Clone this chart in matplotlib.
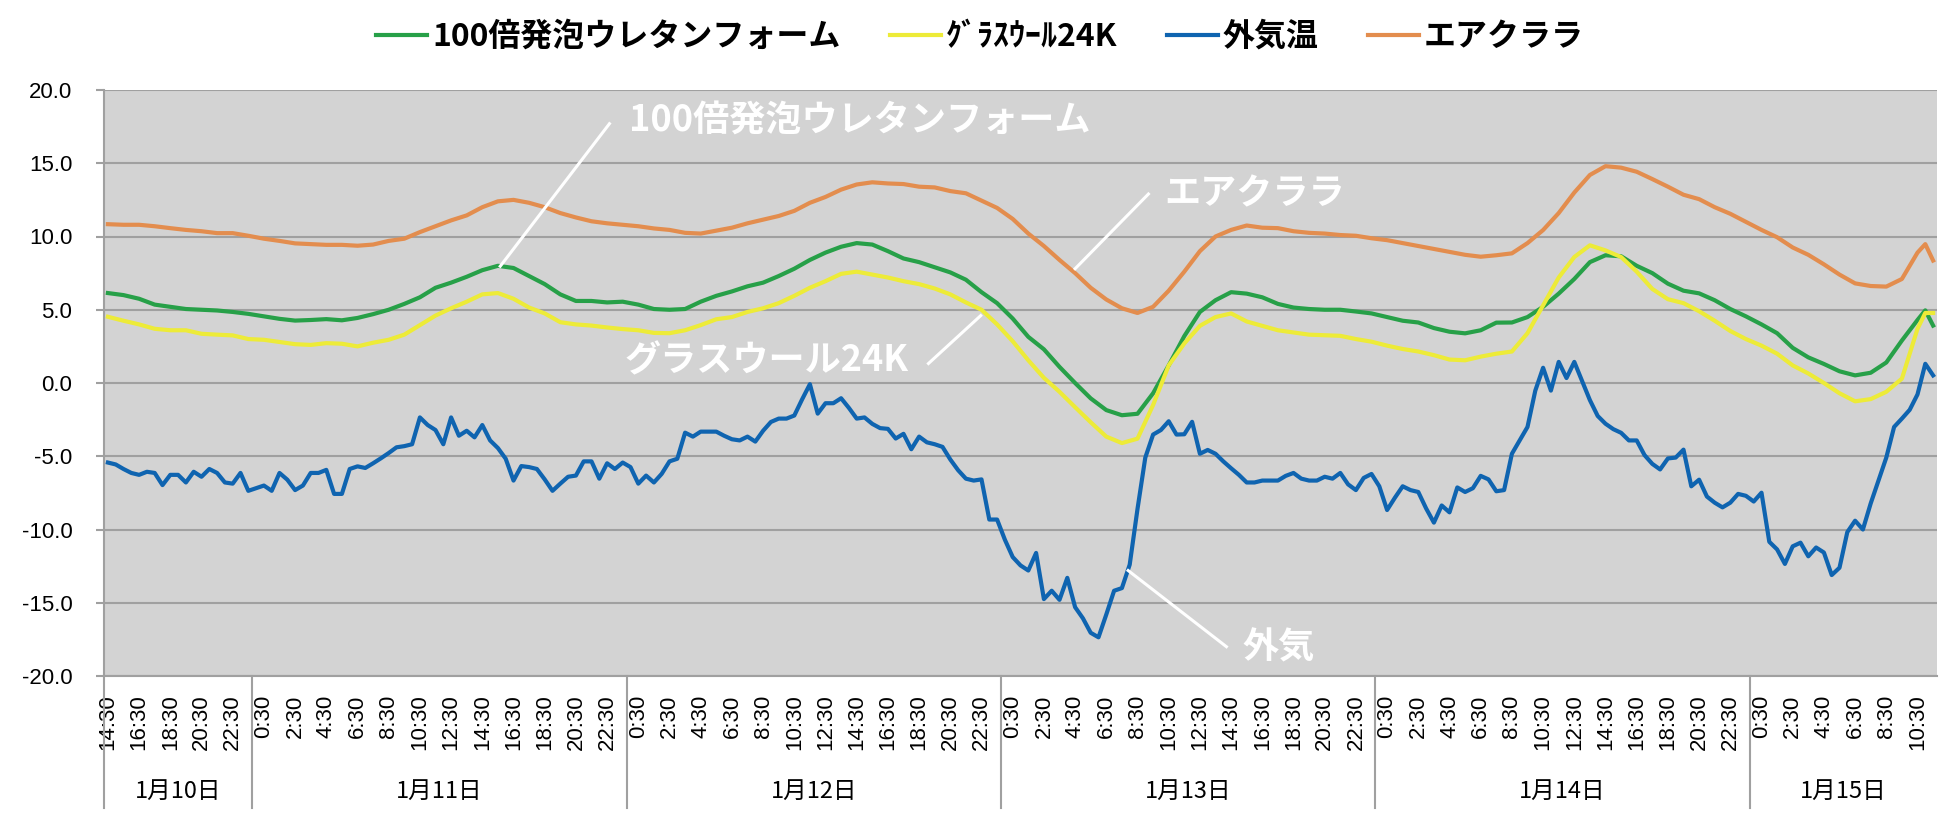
import numpy as np
import pandas as pd
import matplotlib
matplotlib.use("Agg")
import matplotlib.pyplot as plt
import matplotlib.transforms as mtransforms
from matplotlib.ticker import FormatStrFormatter
from matplotlib.font_manager import FontProperties

plt.rcParams['font.family'] = ['Liberation Sans', 'Noto Sans CJK JP', 'DejaVu Sans']
plt.rcParams['axes.unicode_minus'] = False

# 30分ごとの測定 (1/10 14:30 ～ 1/15 11:30)
start_time = '2000-01-10 14:30'

# 外気温 (30分ごと)
outside = [
    -5.43, -5.56, -5.87, -6.14, -6.27, -6.06, -6.14, -6.97, -6.27, -6.27,
    -6.79, -6.06, -6.4, -5.87, -6.14, -6.79, -6.87, -6.14, -7.36, -7.18,
    -7.0, -7.36, -6.14, -6.6, -7.31, -7.0, -6.14, -6.14, -5.93, -7.57,
    -7.57, -5.87, -5.69, -5.8, -5.48, -5.14, -4.78, -4.39, -4.31, -4.18,
    -2.35, -2.87, -3.21, -4.18, -2.35, -3.6, -3.26, -3.71, -2.87, -3.92,
    -4.44, -5.17, -6.66, -5.67, -5.74, -5.87, -6.58, -7.36, -6.87, -6.4,
    -6.32, -5.35, -5.35, -6.53, -5.48, -5.87, -5.43, -5.74, -6.87, -6.32,
    -6.79, -6.2, -5.35, -5.17, -3.39, -3.66, -3.32, -3.32, -3.32, -3.6,
    -3.84, -3.92, -3.66, -4.0, -3.26, -2.66, -2.43, -2.43, -2.22, -1.12,
    -0.08, -2.09, -1.38, -1.38, -1.04, -1.7, -2.43, -2.35, -2.79, -3.08,
    -3.13, -3.79, -3.47, -4.52, -3.66, -4.05, -4.18, -4.36, -5.22, -5.95,
    -6.53, -6.66, -6.58, -9.32, -9.32, -10.7, -11.88, -12.45, -12.8, -11.6,
    -14.75, -14.18, -14.8, -13.3, -15.3, -16.06, -17.05, -17.36, -15.8, -14.18,
    -14.0, -12.4, -8.6, -5.09, -3.52, -3.21, -2.61, -3.52, -3.5, -2.65,
    -4.83, -4.57, -4.83, -5.35, -5.82, -6.27, -6.79, -6.79, -6.66, -6.66,
    -6.66, -6.34, -6.14, -6.53, -6.66, -6.66, -6.4, -6.53, -6.14, -6.92,
    -7.31, -6.48, -6.21, -7.05, -8.67, -7.83, -7.05, -7.31, -7.44, -8.56,
    -9.53, -8.36, -8.83, -7.13, -7.44, -7.18, -6.34, -6.58, -7.39, -7.31,
    -4.83, -3.92, -3.0, -0.52, 1.04, -0.52, 1.44, 0.34, 1.44, 0.13,
    -1.17, -2.25, -2.78, -3.15, -3.4, -3.92, -3.92, -4.92, -5.52, -5.9,
    -5.15, -5.09, -4.55, -7.05, -6.6, -7.75, -8.17, -8.49, -8.17, -7.57,
    -7.7, -8.09, -7.49, -10.84, -11.36, -12.35, -11.15, -10.9, -11.83, -11.23,
    -11.57, -13.11, -12.61, -10.18, -9.4, -10.0, -8.22, -6.66, -5.09, -3.0,
    -2.43, -1.83, -0.78, 1.31, 0.52,
]

# 室内側 (1時間ごと 14:30 ～ 10:30、最後の2点は 11:00, 11:30)
urethane = [
    6.14, 6.0, 5.75, 5.35, 5.2, 5.05, 5.0, 4.95, 4.85, 4.72,
    4.55, 4.38, 4.26, 4.3, 4.36, 4.28, 4.44, 4.7, 5.0, 5.4,
    5.85, 6.5, 6.85, 7.25, 7.7, 8.0, 7.85, 7.3, 6.75, 6.05,
    5.6, 5.6, 5.5, 5.55, 5.35, 5.05, 5.0, 5.05, 5.55, 5.95,
    6.25, 6.6, 6.85, 7.3, 7.8, 8.4, 8.9, 9.3, 9.55, 9.45,
    9.0, 8.5, 8.25, 7.9, 7.55, 7.05, 6.2, 5.45, 4.4, 3.15,
    2.3, 1.1, 0.0, -1.05, -1.85, -2.2, -2.1, -0.7, 1.2, 3.2,
    4.85, 5.65, 6.2, 6.1, 5.85, 5.4, 5.15, 5.05, 5.0, 5.0,
    4.88, 4.75, 4.5, 4.25, 4.13, 3.75, 3.5, 3.39, 3.6, 4.12,
    4.13, 4.5, 5.2, 6.1, 7.1, 8.25, 8.72, 8.65, 8.0, 7.5,
    6.78, 6.3, 6.12, 5.65, 5.05, 4.55, 4.0, 3.4, 2.4, 1.75,
    1.3, 0.8, 0.52, 0.7, 1.4, 2.9, 4.3,
    4.96, 3.92,
]
glasswool = [
    4.52, 4.25, 4.0, 3.7, 3.6, 3.6, 3.36, 3.3, 3.25, 3.0,
    2.95, 2.8, 2.65, 2.6, 2.72, 2.68, 2.5, 2.75, 2.95, 3.3,
    3.95, 4.6, 5.1, 5.55, 6.05, 6.14, 5.75, 5.15, 4.75, 4.15,
    4.0, 3.92, 3.79, 3.68, 3.6, 3.42, 3.4, 3.6, 3.95, 4.35,
    4.5, 4.85, 5.1, 5.45, 5.95, 6.5, 6.95, 7.45, 7.6, 7.4,
    7.2, 6.95, 6.75, 6.45, 6.05, 5.5, 5.0, 4.0, 2.85, 1.55,
    0.35, -0.6, -1.65, -2.68, -3.66, -4.1, -3.8, -1.5, 1.2, 2.7,
    3.9, 4.5, 4.75, 4.2, 3.9, 3.6, 3.45, 3.3, 3.26, 3.22,
    3.0, 2.82, 2.55, 2.32, 2.15, 1.9, 1.6, 1.55, 1.8, 2.0,
    2.15, 3.4, 5.3, 7.2, 8.6, 9.4, 9.05, 8.6, 7.6, 6.42,
    5.72, 5.45, 4.9, 4.25, 3.55, 3.0, 2.55, 2.0, 1.2, 0.65,
    0.0, -0.7, -1.25, -1.1, -0.6, 0.3, 3.7,
    4.78, 4.78,
]
aircrara = [
    10.84, 10.8, 10.8, 10.7, 10.57, 10.45, 10.36, 10.23, 10.23, 10.05,
    9.85, 9.7, 9.53, 9.48, 9.43, 9.43, 9.37, 9.45, 9.7, 9.85,
    10.3, 10.7, 11.1, 11.44, 12.0, 12.4, 12.5, 12.3, 12.0, 11.6,
    11.3, 11.04, 10.9, 10.8, 10.7, 10.55, 10.45, 10.25, 10.2, 10.4,
    10.6, 10.9, 11.15, 11.4, 11.75, 12.3, 12.7, 13.2, 13.55, 13.7,
    13.62, 13.58, 13.4, 13.35, 13.1, 12.95, 12.45, 11.95, 11.2, 10.2,
    9.35, 8.4, 7.5, 6.5, 5.7, 5.1, 4.78, 5.2, 6.3, 7.6,
    9.0, 10.0, 10.45, 10.75, 10.6, 10.57, 10.36, 10.25, 10.2, 10.1,
    10.05, 9.88, 9.75, 9.55, 9.35, 9.15, 8.95, 8.75, 8.62, 8.72,
    8.85, 9.55, 10.44, 11.6, 13.0, 14.2, 14.8, 14.7, 14.42, 13.92,
    13.4, 12.85, 12.55, 12.0, 11.55, 11.0, 10.45, 9.95, 9.25, 8.75,
    8.1, 7.4, 6.8, 6.62, 6.58, 7.1, 8.9,
    9.48, 8.36,
]

series_names = ['100倍発泡ウレタンフォーム', 'ｸﾞﾗｽｳｰﾙ24K', '外気温', 'エアクララ']
colors = ['#27A048', '#EDEB38', '#0F64B0', '#E38D4E']
day_labels = ['1月10日', '1月11日', '1月12日', '1月13日', '1月14日', '1月15日']

n = len(outside)
times = pd.date_range(start_time, periods=n, freq='30min')
x_all = np.arange(n)
x_hour = np.r_[np.arange(0, n - 2, 2), n - 2, n - 1]

fig = plt.figure(figsize=(19.6, 8.18), dpi=100)
ax = fig.add_axes([104 / 1960, 1 - 676 / 818, 1833 / 1960, 586 / 818])
ax.set_facecolor('#D3D3D3')

lw = 3.0
ax.plot(x_hour, urethane, color=colors[0], lw=lw, label=series_names[0], zorder=3)
ax.plot(x_hour, glasswool, color=colors[1], lw=lw, label=series_names[1], zorder=3)
ax.plot(x_all, outside, color=colors[2], lw=lw, label=series_names[2], zorder=3)
ax.plot(x_hour, aircrara, color=colors[3], lw=lw, label=series_names[3], zorder=3)

ax.set_xlim(-0.5, n - 0.5)
ax.set_ylim(-20, 20)
ax.set_yticks(np.arange(-20, 21, 5))
ax.yaxis.set_major_formatter(FormatStrFormatter('%.1f'))
ax.grid(axis='y', color='#A0A0A0', lw=1.5, zorder=1)
for s in ['top', 'right']:
    ax.spines[s].set_visible(False)
for s in ['left', 'bottom']:
    ax.spines[s].set_color('#A0A0A0')
    ax.spines[s].set_linewidth(1.5)
ax.tick_params(axis='y', direction='out', length=5.8, width=1.5, color='#A0A0A0',
               pad=17, labelsize=16)

# 時刻ラベル (2時間ごと)
tick_pos = x_all[::4]
tick_lab = [f"{t.hour}:{t.minute:02d}" for t in times[::4]]
ax.set_xticks(tick_pos)
ax.set_xticklabels(tick_lab, rotation=90, fontsize=16, va='top')
ax.tick_params(axis='x', length=0, pad=13.5)

# 日付の区切り
trans = mtransforms.blended_transform_factory(ax.transData, ax.transAxes)
days = np.array([t.day for t in times])
bounds = [-0.5] + [i - 0.5 for i in range(1, n) if days[i] != days[i - 1]] + [n - 0.5]
low = -(808 - 676) / 586
for b in bounds[:-1]:
    ax.plot([b, b], [0, low], color='#A0A0A0', lw=1.5, transform=trans, clip_on=False)
for k, lab in enumerate(day_labels):
    ax.text((bounds[k] + bounds[k + 1]) / 2, -(791 - 676) / 586, lab, transform=trans,
            ha='center', va='center', fontsize=17, family=['Noto Sans CJK JP', 'DejaVu Sans'])

# 系列名の注記
afont = dict(color='white', fontsize=26, fontweight='bold',
             family=['Noto Sans CJK JP', 'DejaVu Sans'], va='center', ha='left', zorder=5)
ax.text(66.8, 17.85, '100倍発泡ウレタンフォーム', **afont)
ax.plot([64.3, 50.3], [17.7, 7.97], color='white', lw=2.2, zorder=4)
ax.text(135.4, 12.9, 'エアクララ', **afont)
ax.plot([133.4, 124.0], [12.9, 7.8], color='white', lw=2.2, zorder=4)
ax.text(66.3, 1.5, 'グラスウール24K', **afont)
ax.plot([105.2, 111.9], [1.33, 4.6], color='white', lw=2.2, zorder=4)
ax.text(145.4, -18.1, '外気', **afont)
ax.plot([130.8, 143.4], [-12.8, -18.0], color='white', lw=2.2, zorder=4)

handles, labels = ax.get_legend_handles_labels()
fig.legend(handles, labels, loc='center', bbox_to_anchor=(0.5, 1 - 37 / 818), ncol=4,
           frameon=False, handlelength=1.6, handletextpad=0.15, columnspacing=1.55,
           prop=FontProperties(family=['Noto Sans CJK JP', 'DejaVu Sans'], weight='bold', size=23))

fig.savefig('out.png', dpi=100, facecolor='white')
